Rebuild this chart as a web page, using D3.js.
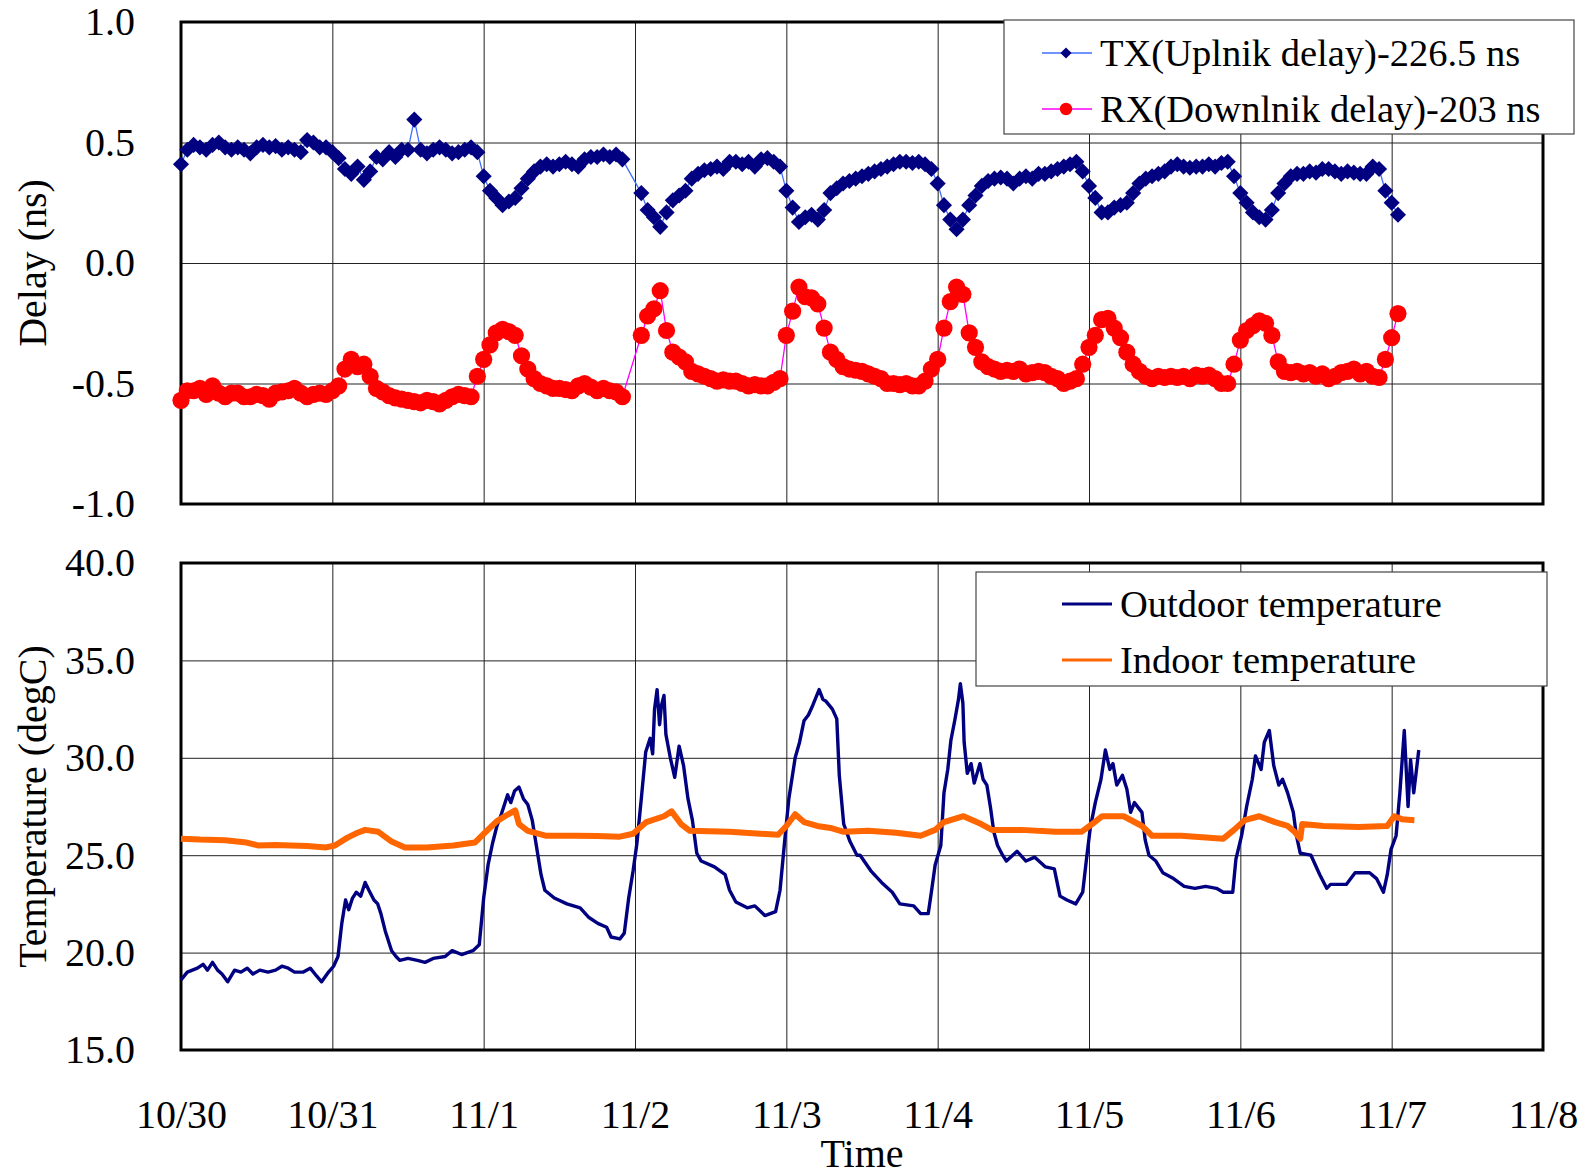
<!DOCTYPE html>
<html>
<head>
<meta charset="utf-8">
<script src="https://d3js.org/d3.v7.min.js"></script>
<style>
    body { margin: 0; background: #fff; }
    svg text { font-family: "Liberation Serif", "Times New Roman", serif; fill: #000; }
</style>
</head>
<body>
<div id="chart"></div>
<script>
// x values are hours counted from 10/30 00:00
let dayLabels = ["10/30", "10/31", "11/1", "11/2", "11/3", "11/4", "11/5", "11/6", "11/7", "11/8"];
let delayTicks = [1.0, 0.5, 0.0, -0.5, -1.0];
let tempTicks = [40, 35, 30, 25, 20, 15];

// hourly delay readings (ns), index = hour, null = no sample
let txDelay = [
    0.41, 0.47, 0.49, 0.48, 0.47, 0.49, 0.50, 0.48, 0.47, 0.48, 0.47, 0.455,
    0.48, 0.49, 0.48, 0.485, 0.47, 0.48, 0.47, 0.46, 0.51, 0.50, 0.48, 0.48,
    0.46, 0.435, 0.39, 0.37, 0.40, 0.345, 0.38, 0.44, 0.43, 0.46, 0.44, 0.47,
    0.47, 0.595, 0.47, 0.455, 0.47, 0.48, 0.47, 0.455, 0.46, 0.47, 0.48, 0.46,
    0.36, 0.30, 0.27, 0.24, 0.255, 0.27, 0.31, 0.35, 0.38, 0.40, 0.41, 0.40,
    0.41, 0.42, 0.41, 0.40, 0.43, 0.44, 0.44, 0.45, 0.44, 0.45, 0.43, null,
    null, 0.29, 0.22, 0.19, 0.15, 0.21, 0.26, 0.28, 0.30, 0.35, 0.37, 0.385,
    0.39, 0.40, 0.39, 0.42, 0.42, 0.41, 0.42, 0.40, 0.43, 0.435, 0.42, 0.40,
    0.30, 0.23, 0.17, 0.19, 0.20, 0.18, 0.22, 0.29, 0.31, 0.33, 0.34, 0.35,
    0.36, 0.37, 0.38, 0.39, 0.40, 0.41, 0.42, 0.42, 0.415, 0.42, 0.41, 0.39,
    0.33, 0.24, 0.18, 0.14, 0.18, 0.24, 0.28, 0.32, 0.34, 0.35, 0.355, 0.35,
    0.33, 0.35, 0.36, 0.35, 0.37, 0.37, 0.38, 0.39, 0.40, 0.41, 0.42, 0.38,
    0.32, 0.27, 0.21, 0.21, 0.23, 0.24, 0.25, 0.29, 0.33, 0.35, 0.36, 0.37,
    0.38, 0.40, 0.41, 0.40, 0.395, 0.40, 0.40, 0.41, 0.40, 0.415, 0.42, 0.36,
    0.29, 0.25, 0.21, 0.19, 0.18, 0.22, 0.29, 0.33, 0.36, 0.37, 0.37, 0.38,
    0.375, 0.39, 0.39, 0.38, 0.37, 0.38, 0.375, 0.37, 0.37, 0.40, 0.39, 0.30,
    0.25, 0.20
];

let rxDelay = [
    -0.57, -0.53, -0.53, -0.52, -0.545, -0.51, -0.54, -0.555, -0.54, -0.54, -0.555, -0.555,
    -0.545, -0.55, -0.565, -0.54, -0.535, -0.53, -0.52, -0.54, -0.555, -0.545, -0.54, -0.545,
    -0.53, -0.51, -0.44, -0.40, -0.43, -0.42, -0.47, -0.52, -0.535, -0.55, -0.56, -0.565,
    -0.57, -0.575, -0.58, -0.57, -0.575, -0.585, -0.57, -0.555, -0.545, -0.55, -0.555, -0.47,
    -0.40, -0.34, -0.29, -0.275, -0.285, -0.30, -0.385, -0.44, -0.48, -0.50, -0.51, -0.52,
    -0.52, -0.525, -0.53, -0.51, -0.50, -0.515, -0.53, -0.52, -0.53, -0.535, -0.555, null,
    null, -0.30, -0.22, -0.19, -0.115, -0.28, -0.37, -0.39, -0.41, -0.45, -0.46, -0.47,
    -0.48, -0.49, -0.485, -0.49, -0.49, -0.50, -0.51, -0.505, -0.51, -0.51, -0.495, -0.48,
    -0.30, -0.20, -0.10, -0.14, -0.145, -0.17, -0.27, -0.37, -0.40, -0.43, -0.44, -0.445,
    -0.45, -0.46, -0.47, -0.48, -0.50, -0.50, -0.505, -0.50, -0.51, -0.51, -0.49, -0.44,
    -0.40, -0.27, -0.16, -0.10, -0.13, -0.29, -0.35, -0.41, -0.43, -0.44, -0.45, -0.445,
    -0.45, -0.44, -0.46, -0.455, -0.45, -0.455, -0.47, -0.48, -0.50, -0.49, -0.48, -0.42,
    -0.35, -0.30, -0.235, -0.23, -0.27, -0.31, -0.37, -0.42, -0.45, -0.47, -0.48, -0.47,
    -0.475, -0.47, -0.475, -0.47, -0.48, -0.465, -0.47, -0.465, -0.48, -0.50, -0.50, -0.42,
    -0.32, -0.28, -0.26, -0.24, -0.25, -0.30, -0.41, -0.45, -0.455, -0.45, -0.46, -0.455,
    -0.47, -0.46, -0.48, -0.47, -0.455, -0.45, -0.44, -0.46, -0.45, -0.47, -0.475, -0.40,
    -0.31, -0.21
];

// [hour, degC]
let outdoorTemp = [
    [0, 18.6], [1, 19.0], [2.6, 19.2], [3.5, 19.4], [4.2, 19.1], [5, 19.5], [5.8, 19.1], [6.5, 18.9],
    [7.4, 18.5], [8.5, 19.1], [9.5, 19.0], [10.5, 19.2], [11.4, 18.9], [12.5, 19.1], [13.8, 19.0],
    [15, 19.1], [16, 19.3], [17, 19.2], [18, 19.0], [19.4, 19.0], [20.5, 19.2], [21.5, 18.8],
    [22.3, 18.5], [23.4, 19.0], [24.2, 19.3], [24.9, 19.8], [25.5, 21.5], [26.1, 22.7], [26.6, 22.2],
    [27.2, 22.8], [27.8, 23.1], [28.5, 22.9], [29.2, 23.6], [29.8, 23.2], [30.6, 22.7], [31.2, 22.5],
    [31.7, 22.0], [32.4, 21.1], [33.4, 20.1], [34.1, 19.8], [34.7, 19.6], [36, 19.7], [37.5, 19.6],
    [38.7, 19.5], [40, 19.7], [41.9, 19.8], [43, 20.1], [44.5, 19.9], [46.3, 20.1], [47.3, 20.4],
    [48, 22.8], [48.7, 24.5], [49.4, 25.6], [50.1, 26.5], [50.8, 27.1], [51.8, 28.1], [52.3, 27.7],
    [52.9, 28.3], [53.6, 28.5], [54.3, 27.9], [55, 27.6], [55.7, 26.8], [56.3, 25.6], [57.1, 24.0],
    [57.7, 23.2], [59.2, 22.8], [61.2, 22.5], [63.3, 22.3], [64.7, 21.8], [66.1, 21.5], [67.5, 21.3],
    [68.2, 20.8], [69.6, 20.7], [70.3, 21.0], [71, 22.8], [71.7, 24.2], [72.3, 25.6], [73, 27.9],
    [73.7, 30.3], [74.4, 31.0], [74.8, 30.2], [75.1, 32.5], [75.5, 33.5], [75.9, 31.7], [76.2, 32.7],
    [76.6, 33.2], [76.9, 31.2], [77.6, 30.0], [78.3, 29.0], [79, 30.6], [79.7, 29.6], [80.4, 27.9],
    [81.1, 26.8], [81.8, 25.1], [82.5, 24.7], [84.6, 24.4], [86.3, 24.0], [87, 23.2], [88, 22.6],
    [89.8, 22.3], [91, 22.4], [92.6, 21.9], [94.3, 22.1], [95, 23.2], [95.7, 25.6], [96.4, 27.9],
    [97.4, 30.0], [98.1, 30.8], [98.8, 31.9], [99.5, 32.2], [100.2, 32.7], [101.2, 33.5], [101.8, 33.0],
    [102.3, 32.9], [103.3, 32.5], [104, 32.0], [104.4, 29.1], [105.1, 26.6], [106.1, 25.7], [107.2, 25.0],
    [107.7, 25.0], [109.4, 24.2], [111.1, 23.6], [112.8, 23.1], [114, 22.5], [116.2, 22.4], [117.3, 22.0],
    [118.5, 22.0], [119, 23.1], [119.6, 24.5], [120.5, 25.5], [121, 28.2], [121.6, 29.4], [122.1, 30.9],
    [122.7, 31.9], [123.3, 33.0], [123.6, 33.8], [124, 32.8], [124.2, 30.8], [124.7, 29.2], [125.3, 29.7],
    [125.8, 28.7], [126.7, 29.7], [127.2, 28.9], [127.8, 28.6], [128.4, 27.4], [128.9, 26.2], [129.5, 25.5],
    [130.3, 25.0], [130.9, 24.7], [132.6, 25.2], [134, 24.7], [135.4, 24.9], [137.1, 24.4], [138.5, 24.3],
    [139.4, 22.9], [140.5, 22.7], [141.9, 22.5], [143, 23.1], [143.6, 24.8], [144.2, 26.4], [145, 27.7],
    [145.9, 28.9], [146.6, 30.4], [147.3, 29.4], [147.8, 29.7], [148.4, 28.6], [149.3, 29.1], [150, 28.4],
    [150.6, 27.2], [151.2, 27.7], [152.4, 27.2], [152.9, 25.8], [153.5, 25.0], [154.6, 24.7], [155.7, 24.1],
    [157.4, 23.8], [159.1, 23.4], [160.8, 23.3], [162.5, 23.4], [164.2, 23.3], [165.3, 23.1], [166.8, 23.1],
    [167.3, 24.8], [168.2, 26.0], [169, 27.5], [169.9, 28.9], [170.4, 30.1], [171.3, 29.4], [171.8, 30.8],
    [172.6, 31.4], [173.3, 29.6], [174.1, 28.6], [174.7, 28.9], [175.5, 28.2], [176.4, 27.2], [176.9, 26.0],
    [177.5, 25.1], [179.2, 25.0], [180.6, 24.0], [181.7, 23.3], [182.3, 23.5], [183.4, 23.5], [184.8, 23.5],
    [186.2, 24.1], [188.5, 24.1], [189.6, 23.8], [190.7, 23.1], [191.3, 24.0], [191.9, 25.3], [192.7, 26.0],
    [193.3, 28.2], [194, 31.4], [194.6, 27.5], [195, 29.9], [195.5, 28.2], [196.3, 30.4]
];

let indoorTemp = [
    [0, 25.85], [3, 25.8], [7, 25.77], [10.4, 25.65], [12.2, 25.5], [15, 25.52], [17.4, 25.5], [20, 25.47],
    [23, 25.4], [24.4, 25.5], [26.4, 25.9], [28, 26.15], [29.2, 26.3], [31.3, 26.2], [33.4, 25.7],
    [35.5, 25.4], [39, 25.4], [43.2, 25.5], [46.6, 25.65], [48, 26.1], [50.1, 26.75], [51.9, 27.1],
    [53, 27.3], [53.6, 26.6], [55, 26.25], [57.8, 26.0], [62.6, 26.0], [66, 25.98], [69.6, 25.95],
    [71.7, 26.1], [73.8, 26.7], [76.6, 27.0], [77.8, 27.25], [79.3, 26.6], [80.7, 26.25], [87, 26.2],
    [94.7, 26.05], [96, 26.5], [97.4, 27.1], [98.8, 26.7], [100.9, 26.5], [103, 26.4], [105.1, 26.2],
    [109, 26.25], [113.4, 26.15], [117.3, 26.0], [119.6, 26.3], [121, 26.7], [124.1, 27.0], [126.9, 26.6],
    [128.6, 26.3], [133.2, 26.3], [138.8, 26.2], [142.8, 26.2], [144.5, 26.6], [146.1, 27.0], [149.5, 27.0],
    [152.4, 26.5], [154, 26.0], [158.6, 26.0], [165.3, 25.85], [167, 26.3], [168.7, 26.8], [171, 27.0],
    [173.5, 26.7], [175.5, 26.5], [176.6, 26.2], [177.5, 25.85], [177.8, 26.6], [181.2, 26.5],
    [186.8, 26.45], [191.3, 26.5], [192.4, 27.0], [193.6, 26.85], [195.6, 26.8]
];

const W = 1586, H = 1176;

let svg = d3.select("#chart").append("svg")
    .attr("width", W)
    .attr("height", H);

class TimePanel {

    constructor(svg, config) {
        this.svg = svg;
        this.config = config;

        this.initVis();
    }

    initVis() {
        let vis = this;
        let c = vis.config;

        vis.margin = { top: c.top, left: 181, right: 43 };
        vis.width = W - vis.margin.left - vis.margin.right;
        vis.height = c.height;

        vis.g = vis.svg.append("g")
            .attr("transform", "translate(" + vis.margin.left + "," + vis.margin.top + ")");

        vis.x = d3.scaleLinear().domain([0, 216]).range([0, vis.width]);
        vis.y = d3.scaleLinear().domain(d3.extent(c.ticks)).range([vis.height, 0]);

        // grid lines
        vis.g.append("g")
            .call(d3.axisBottom(vis.x).tickValues(d3.range(24, 216, 24)).tickSize(vis.height).tickFormat(""))
            .call(g => g.select(".domain").remove())
            .selectAll("line").attr("stroke", "#222").attr("stroke-width", 1);

        vis.g.append("g")
            .call(d3.axisLeft(vis.y).tickValues(c.ticks.slice(1, -1)).tickSize(-vis.width).tickFormat(""))
            .call(g => g.select(".domain").remove())
            .selectAll("line").attr("stroke", "#222").attr("stroke-width", 1);

        // plot frame
        vis.g.append("rect")
            .attr("width", vis.width)
            .attr("height", vis.height)
            .attr("fill", "none")
            .attr("stroke", "#000")
            .attr("stroke-width", 3);

        // y tick labels
        vis.g.append("g")
            .call(d3.axisLeft(vis.y).tickValues(c.ticks).tickSize(0).tickPadding(46).tickFormat(d => d.toFixed(1)))
            .call(g => g.select(".domain").remove())
            .selectAll("text")
            .style("font-size", "40px")
            .style("font-family", "'Liberation Serif', serif");

        // y title
        vis.svg.append("text")
            .attr("transform", "translate(46," + (vis.margin.top + vis.height / 2) + ") rotate(-90)")
            .attr("text-anchor", "middle")
            .style("font-size", "40px")
            .text(c.yTitle);

        if (c.showX) {
            vis.g.append("g")
                .attr("transform", "translate(0," + vis.height + ")")
                .call(d3.axisBottom(vis.x).tickValues(d3.range(0, 217, 24)).tickSize(0).tickPadding(50)
                    .tickFormat((d, i) => dayLabels[i]))
                .call(g => g.select(".domain").remove())
                .selectAll("text")
                .style("font-size", "40px")
                .style("font-family", "'Liberation Serif', serif");

            vis.svg.append("text")
                .attr("x", vis.margin.left + vis.width / 2)
                .attr("y", 1167)
                .attr("text-anchor", "middle")
                .style("font-size", "40px")
                .text("Time");
        }

        vis.wrangleData();
    }

    wrangleData() {
        let vis = this;

        vis.series = vis.config.series;

        vis.updateVis();
    }

    updateVis() {
        let vis = this;

        let line = d3.line()
            .x(d => vis.x(d[0]))
            .y(d => vis.y(d[1]));

        vis.series.forEach(s => {
            vis.g.append("path")
                .datum(s.data)
                .attr("fill", "none")
                .attr("stroke", s.lineColor)
                .attr("stroke-width", s.lineWidth)
                .attr("stroke-linejoin", "round")
                .attr("d", line);

            // markers drawn big enough that the hourly samples merge into a band
            if (s.marker === "diamond") {
                vis.g.selectAll(null)
                    .data(s.data)
                    .join("path")
                    .attr("d", d3.symbol(d3.symbolSquare, 130)())
                    .attr("transform", d => "translate(" + vis.x(d[0]) + "," + vis.y(d[1]) + ") rotate(45)")
                    .attr("fill", s.color);
            } else if (s.marker === "circle") {
                vis.g.selectAll(null)
                    .data(s.data)
                    .join("circle")
                    .attr("cx", d => vis.x(d[0]))
                    .attr("cy", d => vis.y(d[1]))
                    .attr("r", 8.6)
                    .attr("fill", s.color);
            }
        });

        // legend
        let lg = vis.config.legend;
        let leg = vis.svg.append("g").attr("transform", "translate(" + lg.x + "," + lg.y + ")");

        leg.append("rect")
            .attr("width", lg.w)
            .attr("height", lg.h)
            .attr("fill", "#fff")
            .attr("stroke", "#444")
            .attr("stroke-width", 1.2);

        vis.series.forEach((s, i) => {
            let cy = lg.rowY[i];
            leg.append("line")
                .attr("x1", lg.lineX).attr("x2", lg.lineX + 50)
                .attr("y1", cy).attr("y2", cy)
                .attr("stroke", s.lineColor)
                .attr("stroke-width", s.marker ? 1.5 : 3);

            if (s.marker === "diamond") {
                leg.append("path")
                    .attr("d", d3.symbol(d3.symbolSquare, 62)())
                    .attr("transform", "translate(" + (lg.lineX + 24) + "," + cy + ") rotate(45)")
                    .attr("fill", s.color);
            } else if (s.marker === "circle") {
                leg.append("circle")
                    .attr("cx", lg.lineX + 24).attr("cy", cy).attr("r", 6.2)
                    .attr("fill", s.color);
            }

            leg.append("text")
                .attr("x", lg.lineX + 58)
                .attr("y", cy + 13)
                .style("font-size", "38.5px")
                .text(s.name);
        });
    }
}

let hourly = arr => arr.map((v, i) => [i, v]).filter(d => d[1] !== null);

let delayPanel = new TimePanel(svg, {
    top: 22,
    height: 482,
    ticks: delayTicks,
    yTitle: "Delay (ns)",
    showX: false,
    series: [
        { name: "TX(Uplnik delay)-226.5 ns", data: hourly(txDelay), color: "#000080", lineColor: "#3f6fff", lineWidth: 1.3, marker: "diamond" },
        { name: "RX(Downlnik delay)-203 ns", data: hourly(rxDelay), color: "#ff0000", lineColor: "#ff00ff", lineWidth: 1.3, marker: "circle" }
    ],
    legend: { x: 1004, y: 20, w: 570, h: 114, lineX: 38, rowY: [33, 89] }
});

let tempPanel = new TimePanel(svg, {
    top: 563,
    height: 487,
    ticks: tempTicks,
    yTitle: "Temperature (degC)",
    showX: true,
    series: [
        { name: "Outdoor temperature", data: outdoorTemp, color: "#000080", lineColor: "#000080", lineWidth: 3.4, marker: null },
        { name: "Indoor temperature", data: indoorTemp, color: "#ff6600", lineColor: "#ff6600", lineWidth: 6, marker: null }
    ],
    legend: { x: 976, y: 572, w: 571, h: 114, lineX: 86, rowY: [32, 88] }
});
</script>
</body>
</html>
